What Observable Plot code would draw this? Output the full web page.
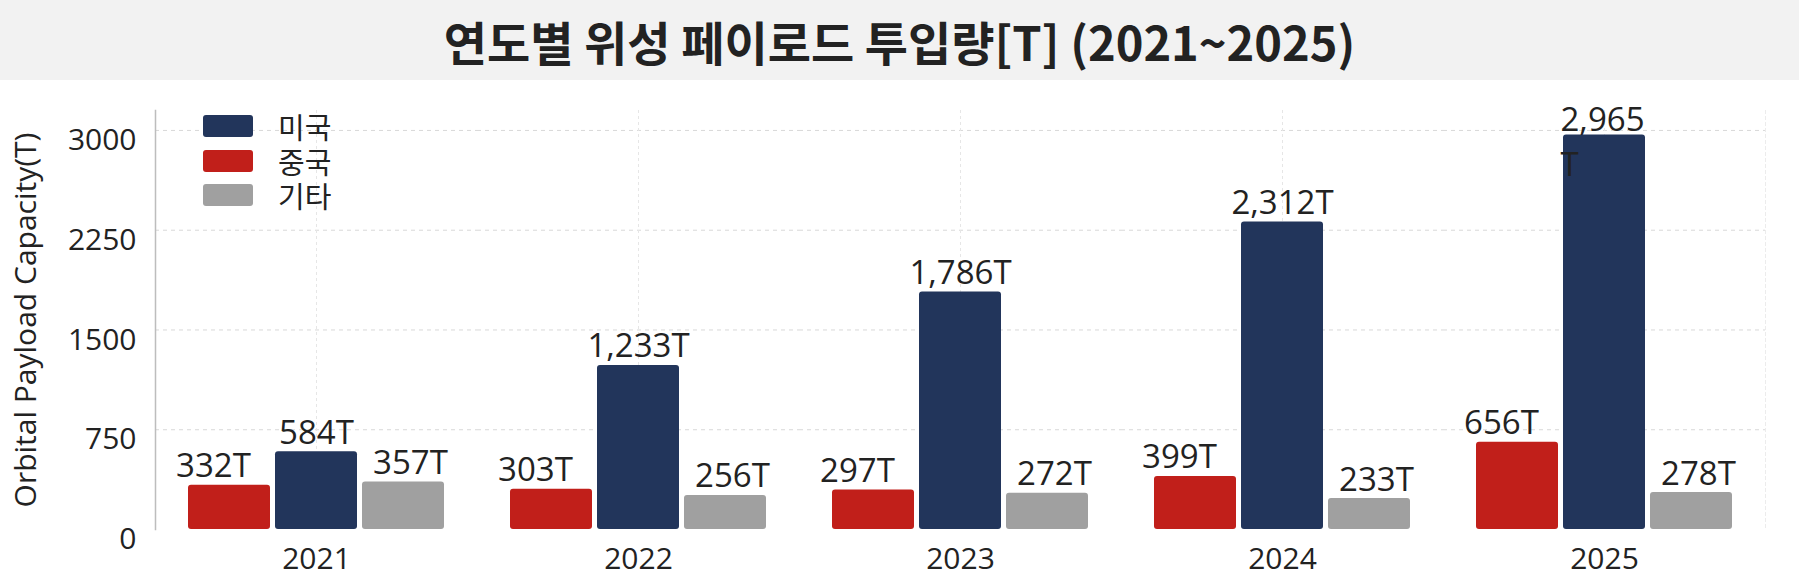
<!DOCTYPE html>
<html><head><meta charset="utf-8">
<script src="https://cdn.jsdelivr.net/npm/d3@7"></script>
<script src="https://cdn.jsdelivr.net/npm/@observablehq/plot@0.6"></script>
<style>
body{margin:0;background:#fff;font-family:"Open Sans","Noto Sans CJK KR",sans-serif;}
#wrap{position:relative;width:1799px;height:581px;overflow:hidden;}
#title{height:80px;background:#f2f2f2;display:flex;align-items:center;justify-content:center;font-family:"Noto Sans CJK KR",sans-serif;font-weight:700;font-size:47px;color:#222;}
#legend{position:absolute;left:203px;top:109px;}
.item{display:flex;align-items:center;height:34.5px;}
.sw{width:50px;height:22px;border-radius:3px;margin-right:25px;}
.lb{font-family:"Noto Sans CJK KR",sans-serif;font-size:29px;color:#222;line-height:30px;height:30px;}
</style>
</head><body>
<div id="wrap">
<div id="title">연도별 위성 페이로드 투입량[T] (2021~2025)</div>
<div id="chart"></div>
<div id="legend"></div>
</div>
<script>
const years = ["2021","2022","2023","2024","2025"];
const countries = ["중국","미국","기타"];
const legendOrder = ["미국","중국","기타"];
const colors = ["#c11f1a","#22355b","#a0a0a0"];
const usValues = [584,1233,1786,2312,2965];
const cnValues = [332,303,297,399,656];
const otherValues = [357,256,272,233,278];
const yTicks = [0,750,1500,2250,3000];
const yLabel = "Orbital Payload Capacity(T)";
const wrappedLabels = ["2025|미국"];

const seriesValues = {"중국":cnValues,"미국":usValues,"기타":otherValues};
const rows = [];
years.forEach((yr,i)=>countries.forEach(c=>rows.push({year:yr,country:c,value:seriesValues[c][i],wrap:wrappedLabels.includes(yr+"|"+c)})));
const fmt = v => d3.format(",")(v) + "T";
const labelDx = {"중국":-16,"미국":0,"기타":7};

const textMarks = countries.map(c => Plot.text(rows.filter(d=>d.country===c && !d.wrap), {
  fx:"year", x:"country", y:"value", text:d=>fmt(d.value), lineAnchor:"bottom", dy:-8, dx:labelDx[c],
  fontSize:33, fill:"#222"
}));
const wrapMark = Plot.text(rows.filter(d=>d.wrap), {
  fx:"year", x:"country", y:"value", text:d=>d3.format(",")(d.value)+"\nT", textAnchor:"start", lineAnchor:"middle",
  lineHeight:1.35, dx:-44, dy:4, fontSize:33, fill:"#222"
});

const chart = Plot.plot({
  width:1799, height:501, marginTop:30, marginBottom:52, marginLeft:155, marginRight:34,
  style:{fontFamily:'"Open Sans","Noto Sans CJK KR",sans-serif', color:"#222", background:"transparent", overflow:"visible"},
  fx:{domain:years, paddingInner:0, paddingOuter:0, label:null, axis:null},
  x:{domain:countries, paddingInner:0.0575, paddingOuter:0.379, axis:null},
  y:{domain:[0,3150], axis:null},
  color:{domain:countries, range:colors},
  marks:[
    Plot.gridY(yTicks.slice(1), {stroke:"#d8d8d8", strokeOpacity:1, strokeDasharray:"4,4"}),
    Plot.gridFx({stroke:"#e6e6e6", strokeOpacity:1, strokeDasharray:"3,3"}),
    Plot.frame({anchor:"right", facetAnchor:"right", stroke:"#ececec", strokeDasharray:"3,3"}),
    Plot.frame({anchor:"left", facetAnchor:"left", stroke:"#bdbdbd", strokeWidth:1.5}),
    Plot.barY(rows, {fx:"year", x:"country", y:"value", fill:"country", rx:3}),
    ...textMarks,
    wrapMark,
    Plot.axisY(yTicks, {tickSize:0, tickPadding:19, fontSize:30, dy:10, fill:"#222", tickFormat:d=>String(d), label:null}),
    Plot.text([yLabel], {frameAnchor:"left", textAnchor:"middle", lineAnchor:"middle", rotate:-90, dx:-129, dy:0, facetAnchor:"left", fontSize:30, fill:"#222"}),
    Plot.axisFx({anchor:"bottom", tickSize:0, tickPadding:18, fontSize:30, fill:"#222", label:null})
  ]
});
document.getElementById("chart").appendChild(chart);

const lg = document.getElementById("legend");
legendOrder.forEach(c=>{
  const it = document.createElement("div"); it.className="item";
  const sw = document.createElement("div"); sw.className="sw"; sw.style.background = colors[countries.indexOf(c)];
  const lb = document.createElement("span"); lb.className="lb"; lb.textContent = c;
  it.appendChild(sw); it.appendChild(lb); lg.appendChild(it);
});
</script>
</body></html>
